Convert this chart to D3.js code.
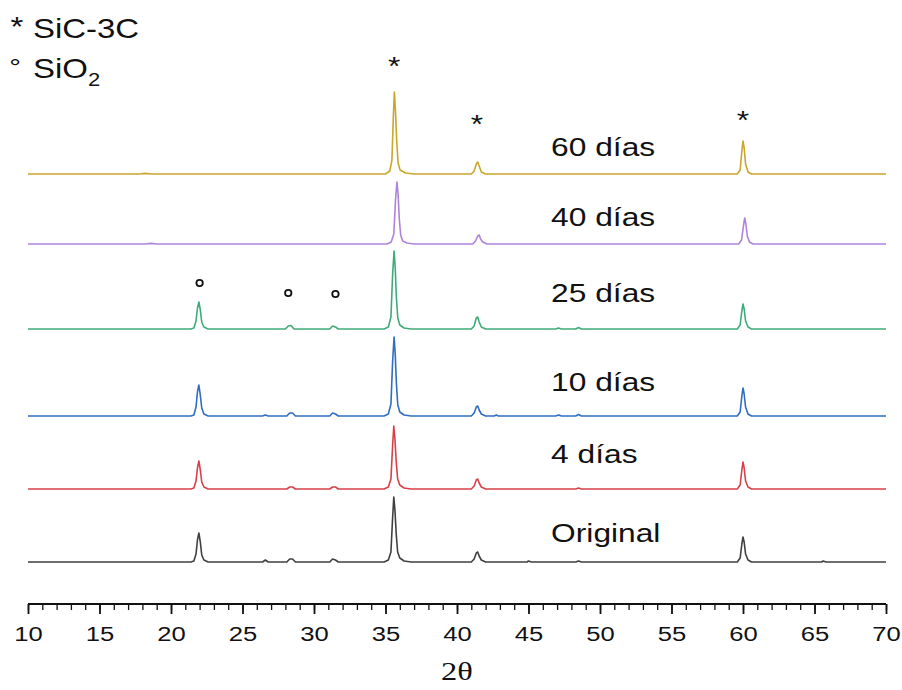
<!DOCTYPE html>
<html>
<head>
<meta charset="utf-8">
<script src="https://cdn.jsdelivr.net/npm/d3@7"></script>
<style>
  html, body { margin: 0; padding: 0; background: #fff; }
  svg { display: block; }
</style>
</head>
<body>
<svg id="chart" width="902" height="690"></svg>
<script>
// XRD patterns of SiC samples after exposure (2θ in degrees, intensity in a.u. above each trace's baseline)
const seriesNames = ["Original", "4 días", "10 días", "25 días", "40 días", "60 días"];
const seriesColors = ["#404040", "#d8414a", "#2f6ec2", "#3fab7a", "#ad84d9", "#c9a62c"];
const seriesOffsets = [42, 115, 188, 275, 360, 430];

const original = [[10,0],[21.4,0],[21.6,1],[21.75,8],[21.85,22],[21.95,29],[22.05,20],[22.15,7],[22.3,2],[22.6,0],
  [26.4,0],[26.6,2],[26.8,0],[28.1,0],[28.3,3],[28.5,3],[28.7,0],[31.1,0],[31.3,3],[31.5,2],[31.7,0],
  [34.9,0],[35.2,2],[35.38,10],[35.5,45],[35.58,65],[35.66,52],[35.75,28],[35.85,10],[36.0,4],[36.3,1],[36.8,0],
  [41.0,0],[41.2,3],[41.35,9],[41.45,10],[41.55,6],[41.7,2],[42.0,0],[44.9,0],[45.0,1],[45.2,0],[48.3,0],[48.5,1],[48.7,0],
  [59.6,0],[59.8,4],[59.92,18],[60.0,25],[60.08,20],[60.18,8],[60.35,2],[60.6,0],[65.5,0],[65.6,1],[65.8,0],[70,0]];

const dias4 = [[10,0],[21.4,0],[21.6,1],[21.75,8],[21.85,21],[21.95,28],[22.05,19],[22.15,7],[22.3,2],[22.6,0],
  [28.1,0],[28.3,2],[28.5,2],[28.7,0],[31.1,0],[31.3,2],[31.5,2],[31.7,0],
  [34.9,0],[35.2,2],[35.38,10],[35.5,44],[35.58,63],[35.66,50],[35.75,27],[35.85,10],[36.0,4],[36.3,1],[36.8,0],
  [41.0,0],[41.2,3],[41.35,9],[41.45,10],[41.55,6],[41.7,2],[42.0,0],[48.3,0],[48.5,1],[48.7,0],
  [59.6,0],[59.8,4],[59.92,19],[60.0,27],[60.08,21],[60.18,8],[60.35,2],[60.6,0],[70,0]];

const dias10 = [[10,0],[21.4,0],[21.6,1],[21.75,9],[21.85,24],[21.95,31],[22.05,21],[22.15,8],[22.3,2],[22.6,0],
  [26.4,0],[26.6,1],[26.8,0],[28.1,0],[28.3,3],[28.5,3],[28.7,0],[31.1,0],[31.3,3],[31.5,2],[31.7,0],
  [34.9,0],[35.2,2],[35.38,12],[35.5,55],[35.6,79],[35.68,62],[35.76,33],[35.86,11],[36.0,4],[36.3,1],[36.8,0],
  [41.0,0],[41.2,3],[41.35,9],[41.45,10],[41.55,6],[41.7,2],[42.0,0],[42.6,0],[42.75,1],[42.9,0],
  [46.9,0],[47.1,1],[47.3,0],[48.3,0],[48.5,1.5],[48.7,0],
  [59.6,0],[59.8,4],[59.92,20],[60.0,28],[60.08,22],[60.18,9],[60.35,2],[60.6,0],[70,0]];

const dias25 = [[10,0],[21.4,0],[21.6,1],[21.75,8],[21.85,21],[21.95,27],[22.05,19],[22.15,7],[22.3,2],[22.6,0],
  [28.0,0],[28.2,3],[28.4,3.5],[28.6,0],[31.1,0],[31.3,3],[31.5,2],[31.7,0],
  [34.9,0],[35.2,2],[35.38,12],[35.5,55],[35.6,78],[35.68,61],[35.76,32],[35.86,11],[36.0,4],[36.3,1],[36.8,0],
  [41.0,0],[41.2,3],[41.35,11],[41.45,12],[41.55,7],[41.7,2],[42.0,0],
  [46.9,0],[47.1,1],[47.3,0],[48.3,0],[48.5,1.5],[48.7,0],
  [59.6,0],[59.8,4],[59.92,18],[60.0,25],[60.08,20],[60.18,8],[60.35,2],[60.6,0],[70,0]];

const dias40 = [[10,0],[18.2,0],[18.6,0.6],[19.0,0],
  [35.1,0],[35.4,2],[35.58,10],[35.7,44],[35.8,62],[35.88,50],[35.96,26],[36.06,9],[36.2,3],[36.5,1],[37.0,0],
  [41.1,0],[41.3,3],[41.45,8],[41.55,9],[41.65,5],[41.8,2],[42.1,0],
  [59.7,0],[59.9,4],[60.03,18],[60.12,26],[60.2,20],[60.3,8],[60.45,2],[60.7,0],[70,0]];

const dias60 = [[10,0],[17.8,0],[18.2,0.6],[18.6,0],
  [35.0,0],[35.3,3],[35.45,14],[35.55,58],[35.62,82],[35.7,62],[35.78,34],[35.88,11],[36.02,4],[36.4,1],[37.0,0],
  [41.0,0],[41.2,3],[41.35,10],[41.45,12],[41.55,8],[41.7,2],[42.0,0],
  [59.6,0],[59.8,4],[59.92,23],[60.0,33],[60.08,26],[60.18,10],[60.35,2],[60.6,0],[70,0]];

const seriesValues = [original, dias4, dias10, dias25, dias40, dias60];

// Phase markers: [2θ, height above the trace baseline]
const sicMarkers = [[35.6, 111], [41.4, 53], [60.0, 57]];    // on the 60 días trace
const sio2Markers = [[22.0, 46], [28.2, 36], [31.5, 35]];    // on the 25 días trace

const xTicks = d3.range(10, 71, 5);
const xMinorTicks = d3.range(10, 71, 1);

const svg = d3.select("#chart");
const X0 = 28, X1 = 886, AXIS_Y = 604;
const stretch = 1.22;

const x = d3.scaleLinear().domain([10, 70]).range([X0, X1]);
const y = d3.scaleLinear().domain([0, 580]).range([AXIS_Y, AXIS_Y - 580]);

// traces
const line = d3.line()
  .x(d => x(d[0]))
  .y(d => y(d[1]));

seriesValues.forEach((vals, i) => {
  const off = seriesOffsets[i];
  svg.append("path")
    .datum(vals.map(p => [p[0], p[1] + off]))
    .attr("d", line)
    .attr("fill", "none")
    .attr("stroke", seriesColors[i])
    .attr("stroke-width", 1.6)
    .attr("stroke-linejoin", "round");
});

// series labels
const labelBaselineAbove = [-20, -26, -25, -27, -18, -18];
seriesNames.forEach((name, i) => {
  const yy = y(seriesOffsets[i]) + labelBaselineAbove[i];
  svg.append("text")
    .attr("transform", `translate(${x(46.58)},${yy}) scale(${stretch},1)`)
    .attr("font-family", "Liberation Sans, Arial, sans-serif")
    .attr("font-size", 26)
    .attr("fill", "#111")
    .text(name);
});

// SiC markers (asterisks)
sicMarkers.forEach(m => {
  svg.append("text")
    .attr("transform", `translate(${x(m[0])},${y(m[1] + seriesOffsets[5]) + 12}) scale(${stretch},1)`)
    .attr("text-anchor", "middle")
    .attr("font-family", "Liberation Sans, Arial, sans-serif")
    .attr("font-size", 26)
    .attr("fill", "#111")
    .text("*");
});

// SiO2 markers (open circles)
sio2Markers.forEach(m => {
  svg.append("circle")
    .attr("cx", x(m[0]))
    .attr("cy", y(m[1] + seriesOffsets[3]))
    .attr("r", 3.2)
    .attr("fill", "none")
    .attr("stroke", "#111")
    .attr("stroke-width", 1.8);
});

// legend
const legend = svg.append("g").attr("font-family", "Liberation Sans, Arial, sans-serif").attr("fill", "#111");
legend.append("text")
  .attr("transform", `translate(17,36) scale(${stretch},1)`)
  .attr("text-anchor", "middle")
  .attr("font-size", 27)
  .text("*");
legend.append("text")
  .attr("transform", `translate(33,38) scale(${stretch},1)`)
  .attr("font-size", 27)
  .text("SiC-3C");
legend.append("text")
  .attr("transform", `translate(15,75) scale(${stretch},1)`)
  .attr("text-anchor", "middle")
  .attr("font-size", 24)
  .text("°");
const sio2 = legend.append("text")
  .attr("transform", `translate(33,78) scale(${stretch},1)`)
  .attr("font-size", 27);
sio2.append("tspan").text("SiO");
sio2.append("tspan").attr("font-size", 18).attr("dy", 8).text("2");

// x axis: minor ticks every degree, labelled major ticks every 5°
const axis = svg.append("g").attr("transform", `translate(0,${AXIS_Y})`);
axis.call(d3.axisBottom(x).tickValues(xMinorTicks).tickSize(6).tickFormat(""))
  .call(g => g.select(".domain").remove());
axis.selectAll(".tick line").attr("stroke", "#111").attr("stroke-width", 1.3);

const major = svg.append("g").attr("transform", `translate(0,${AXIS_Y})`)
  .call(d3.axisBottom(x).tickValues(xTicks).tickSize(10).tickPadding(6).tickFormat(d3.format("d")));
major.select(".domain").attr("d", `M${X0},0H${X1}`).attr("stroke", "#111").attr("stroke-width", 2);
major.selectAll(".tick line").attr("stroke", "#111").attr("stroke-width", 1.8);
major.selectAll(".tick text")
  .attr("font-family", "Liberation Sans, Arial, sans-serif")
  .attr("font-size", 21)
  .attr("fill", "#111")
  .attr("y", 0)
  .attr("dy", 0)
  .attr("transform", `translate(0,37) scale(${stretch},1)`);

// axis title
svg.append("text")
  .attr("transform", `translate(${x(40)},680) scale(1.25,1)`)
  .attr("text-anchor", "middle")
  .attr("font-family", "Liberation Serif, Times New Roman, serif")
  .attr("font-size", 26)
  .attr("fill", "#111")
  .text("2θ");
</script>
</body>
</html>
